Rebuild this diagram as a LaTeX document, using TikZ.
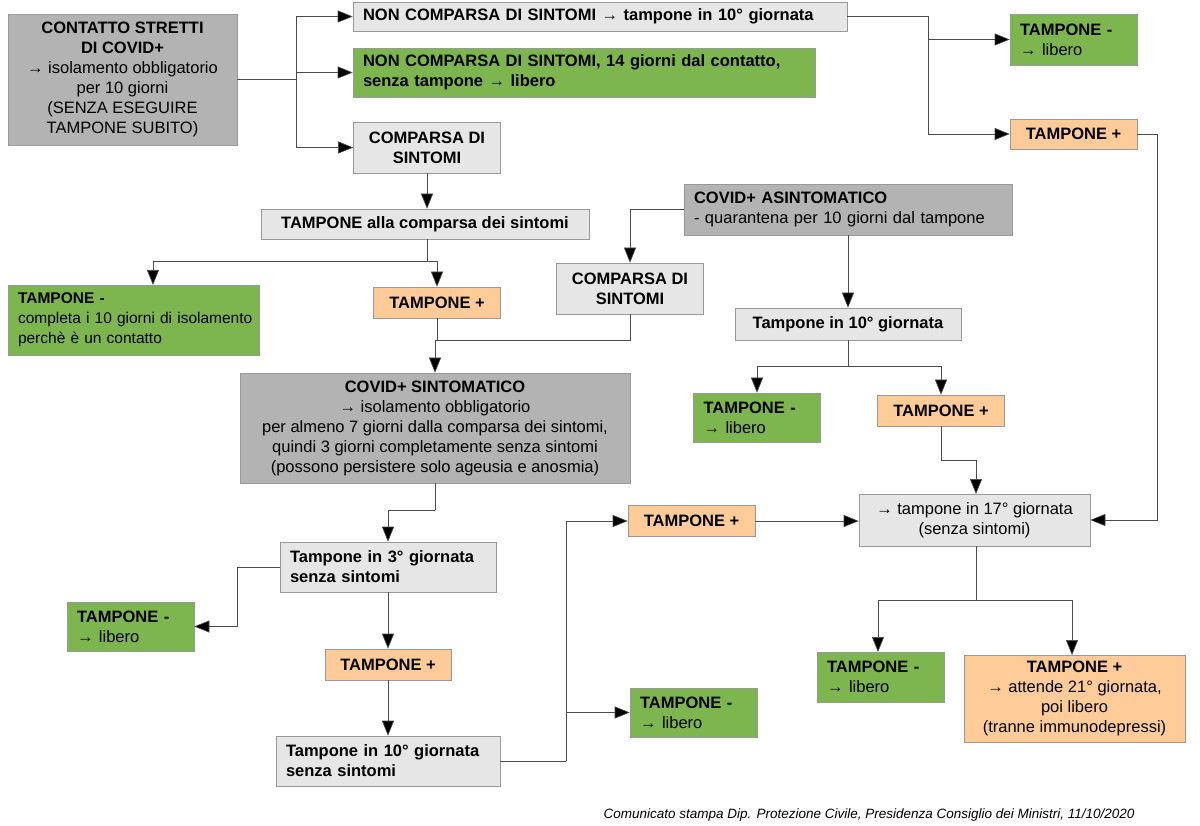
\documentclass[tikz,border=0pt]{standalone}
\usepackage{fontspec}
\setmainfont{Liberation Sans}
\usepackage{xcolor}
\usetikzlibrary{arrows.meta,positioning}

\definecolor{dgrey}{HTML}{B3B3B3}
\definecolor{lgrey}{HTML}{E6E6E6}
\definecolor{okgreen}{HTML}{7DB54E}
\definecolor{posorange}{HTML}{FFCC99}

\tikzset{
  box/.style={draw=gray!80, line width=0.6pt, inner sep=0pt, align=center,
    font=\fontsize{16.5}{20}\selectfont},
  lbox/.style={box, align=left, inner xsep=10pt},
  conn/.style={draw=gray!60!black, line width=0.6pt},
  go/.style={conn, -{Triangle[length=15pt,width=12pt,fill=black]}},
}

\begin{document}
\begin{tikzpicture}[x=1pt,y=-1pt]
    \useasboundingbox[fill=white] (0,0) rectangle (1200,826);

    % Contatti stretti
    \node[box, fill=dgrey, minimum width=229pt, minimum height=131pt] (contatto) at (122.5,79.5)
      {\textbf{CONTATTO STRETTI}\\\textbf{DI COVID+}\\→ isolamento obbligatorio\\per 10 giorni\\(SENZA ESEGUIRE\\TAMPONE SUBITO)};
    \node[lbox, fill=lgrey, text width=474pt, minimum height=29pt] (nonsint) at (600,16.5)
      {\textbf{NON COMPARSA DI SINTOMI → tampone in 10° giornata}};
    \node[lbox, fill=okgreen, text width=442pt, minimum height=49pt] (quattordici) at (584,72.5)
      {\textbf{NON COMPARSA DI SINTOMI, 14 giorni dal contatto,}\\\textbf{senza tampone → libero}};
    \node[box, fill=lgrey, minimum width=147pt, minimum height=51pt] (comparsa) at (427,147.5)
      {\textbf{COMPARSA DI}\\\textbf{SINTOMI}};
    \node[box, fill=lgrey, minimum width=328pt, minimum height=30pt] (tampcomp) at (425,224)
      {\textbf{TAMPONE alla comparsa dei sintomi}};
    \node[lbox, fill=okgreen, text width=231pt, minimum height=70pt, font=\fontsize{15.5}{20}\selectfont] (negcontatto) at (133.5,320)
      {\textbf{TAMPONE -}\\\mbox{completa i 10 giorni di isolamento}\\perchè è un contatto};
    \node[box, fill=posorange, minimum width=127pt, minimum height=31pt] (poscomp) at (437,302.5)
      {\textbf{TAMPONE +}};

    % Asintomatici
    \node[box, fill=lgrey, minimum width=147pt, minimum height=51pt] (comparsaB) at (630,288.5)
      {\textbf{COMPARSA DI}\\\textbf{SINTOMI}};
    \node[lbox, fill=dgrey, text width=308pt, minimum height=51pt] (asint) at (848,209.5)
      {\textbf{COVID+ ASINTOMATICO}\\- quarantena per 10 giorni dal tampone};
    \node[box, fill=lgrey, minimum width=226pt, minimum height=32pt] (asdieci) at (848,324)
      {\textbf{Tampone in 10° giornata}};
    \node[lbox, fill=okgreen, text width=107pt, minimum height=49pt] (asneg) at (757,417.5)
      {\textbf{TAMPONE -}\\→ libero};
    \node[box, fill=posorange, minimum width=127pt, minimum height=31pt] (aspos) at (941,410.5)
      {\textbf{TAMPONE +}};
    \node[box, fill=lgrey, minimum width=231pt, minimum height=52pt] (dicias) at (974.5,520)
      {→ tampone in 17° giornata\\(senza sintomi)};
    \node[lbox, fill=okgreen, text width=107pt, minimum height=51pt] (ctneg) at (1073.5,39.5)
      {\textbf{TAMPONE -}\\→ libero};
    \node[box, fill=posorange, minimum width=127pt, minimum height=30pt] (ctpos) at (1073.5,134)
      {\textbf{TAMPONE +}};
    \node[lbox, fill=okgreen, text width=107pt, minimum height=50pt] (dcneg) at (880.5,677)
      {\textbf{TAMPONE -}\\→ libero};
    \node[box, fill=posorange, minimum width=221pt, minimum height=87pt] (dcpos) at (1074.5,698.5)
      {\textbf{TAMPONE +}\\→ attende 21° giornata,\\poi libero\\(tranne immunodepressi)};

    % Sintomatici
    \node[box, fill=dgrey, minimum width=390pt, minimum height=110pt] (sint) at (435,428)
      {\textbf{COVID+ SINTOMATICO}\\→ isolamento obbligatorio\\per almeno 7 giorni dalla comparsa dei sintomi,\\quindi 3 giorni completamente senza sintomi\\(possono persistere solo ageusia e anosmia)};
    \node[lbox, fill=lgrey, text width=196pt, minimum height=50pt] (tre) at (388,567)
      {\textbf{Tampone in 3° giornata}\\\textbf{senza sintomi}};
    \node[lbox, fill=okgreen, text width=107pt, minimum height=49pt] (treneg) at (130.5,626.5)
      {\textbf{TAMPONE -}\\→ libero};
    \node[box, fill=posorange, minimum width=126pt, minimum height=31pt] (trepos) at (388,664.5)
      {\textbf{TAMPONE +}};
    \node[lbox, fill=lgrey, text width=204pt, minimum height=50pt] (dieci) at (388,761)
      {\textbf{Tampone in 10° giornata}\\\textbf{senza sintomi}};
    \node[box, fill=posorange, minimum width=127pt, minimum height=31pt] (diecipos) at (691.5,521)
      {\textbf{TAMPONE +}};
    \node[lbox, fill=okgreen, text width=107pt, minimum height=49pt] (dieclneg) at (693.5,712.5)
      {\textbf{TAMPONE -}\\→ libero};

    % Fonte
    \node[font=\fontsize{13.5}{16}\selectfont\itshape, anchor=east] (fonte) at (1138,815)
      {Comunicato stampa Dip. Protezione Civile, Presidenza Consiglio dei Ministri, 11/10/2020};

    % Junctions
    \coordinate (jA) at (296,79.5);
    \coordinate (jB) at (928,16.5);
    \coordinate (jE) at (427,261);
    \coordinate (jG) at (437,340);
    \coordinate (jI) at (630,209.5);
    \coordinate (jJ) at (848,366);
    \coordinate (jL) at (941,460);
    \coordinate (jP) at (1157,134);
    \coordinate (jN) at (976,600);
    \coordinate (jM) at (435,510);
    \coordinate (jQ) at (237,567);
    \coordinate (jT) at (566,761);
    \coordinate (tF) at (153,285);
    \coordinate (tN) at (976,494);
    \coordinate (tW) at (878,652);
    \coordinate (tX) at (1072,655);

    % Connectors
    \draw[conn] (contatto.east) -- (jA);
    \draw[go] (jA) |- (nonsint.west);
    \draw[go] (jA) |- (quattordici.west);
    \draw[go] (jA) |- (comparsa.west);
    \draw[conn] (nonsint.east) -- (jB);
    \draw[go] (jB) |- (ctneg.west);
    \draw[go] (jB) |- (ctpos.west);
    \draw[go] (comparsa.south) -- (comparsa.south |- tampcomp.north);
    \draw[conn] (tampcomp.south -| jE) -- (jE);
    \draw[go] (jE) -| (tF);
    \draw[go] (jE) -| (poscomp.north);
    \draw[conn] (poscomp.south) -- (jG);
    \draw[conn] (comparsaB.south) |- (jG);
    \draw[go] (jG) -| (sint.north);
    \draw[conn] (asint.west) -- (jI);
    \draw[go] (jI) -- (comparsaB.north);
    \draw[go] (asint.south) -- (asdieci.north);
    \draw[conn] (asdieci.south) -- (jJ);
    \draw[go] (jJ) -| (asneg.north);
    \draw[go] (jJ) -| (aspos.north);
    \draw[conn] (aspos.south) -- (jL);
    \draw[go] (jL) -| (tN);
    \draw[conn] (ctpos.east) -- (jP);
    \draw[go] (jP) |- (dicias.east);
    \draw[go] (diecipos.east) -- (diecipos.east -| dicias.west);
    \draw[conn] (dicias.south -| jN) -- (jN);
    \draw[go] (jN) -| (tW);
    \draw[go] (jN) -| (tX);
    \draw[conn] (sint.south) -- (jM);
    \draw[go] (jM) -| (tre.north);
    \draw[conn] (tre.west) -- (jQ);
    \draw[go] (jQ) |- (treneg.east);
    \draw[go] (tre.south) -- (tre.south |- trepos.north);
    \draw[go] (trepos.south) -- (trepos.south |- dieci.north);
    \draw[conn] (dieci.east) -- (jT);
    \draw[go] (jT) |- (diecipos.west);
    \draw[go] (jT) |- (dieclneg.west);
\end{tikzpicture}
\end{document}
